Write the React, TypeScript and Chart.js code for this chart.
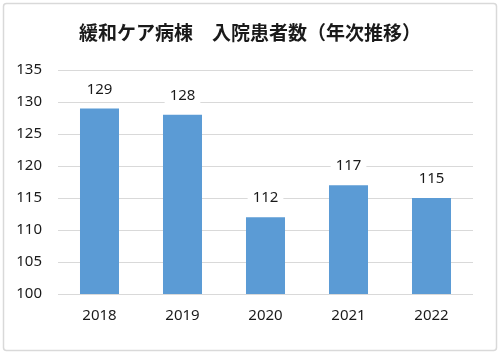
import React, { useEffect, useRef } from "react";
import { Chart, registerables } from "chart.js";

Chart.register(...registerables);

const TITLE = "緩和ケア病棟　入院患者数（年次推移）";
const YEARS = ["2018", "2019", "2020", "2021", "2022"];
const PATIENTS = [129, 128, 112, 117, 115];
const Y_MIN = 100;
const Y_MAX = 135;
const Y_STEP = 5;

const FONT = "'Noto Sans', 'Liberation Sans', sans-serif";

const framePlugin = {
  id: "frame",
  beforeDraw(chart: any) {
    const ctx = chart.ctx;
    ctx.save();
    ctx.fillStyle = "#ffffff";
    ctx.fillRect(0, 0, chart.width, chart.height);
    ctx.strokeStyle = "#d9d9d9";
    ctx.lineWidth = 1.5;
    const x = 3.5, y = 3.5, w = chart.width - 7, h = chart.height - 7, r = 3;
    ctx.beginPath();
    ctx.moveTo(x + r, y);
    ctx.lineTo(x + w - r, y);
    ctx.quadraticCurveTo(x + w, y, x + w, y + r);
    ctx.lineTo(x + w, y + h - r);
    ctx.quadraticCurveTo(x + w, y + h, x + w - r, y + h);
    ctx.lineTo(x + r, y + h);
    ctx.quadraticCurveTo(x, y + h, x, y + h - r);
    ctx.lineTo(x, y + r);
    ctx.quadraticCurveTo(x, y, x + r, y);
    ctx.stroke();
    ctx.font = `bold 19px 'Noto Sans CJK JP', sans-serif`;
    ctx.fillStyle = "#1a1a1a";
    ctx.textAlign = "center";
    ctx.textBaseline = "middle";
    ctx.fillText(TITLE, chart.width / 2, 33);
    ctx.restore();
  },
};

const labelPlugin = {
  id: "barLabels",
  afterDatasetsDraw(chart: any) {
    const ctx = chart.ctx;
    const meta = chart.getDatasetMeta(0);
    const data = chart.data.datasets[0].data;
    ctx.save();
    ctx.font = `15px ${FONT}`;
    ctx.textAlign = "center";
    ctx.textBaseline = "middle";
    meta.data.forEach((bar: any, i: number) => {
      const text = String(data[i]);
      const tw = ctx.measureText(text).width;
      const cy = bar.y - 19;
      ctx.fillStyle = "#ffffff";
      ctx.fillRect(bar.x - tw / 2 - 5, cy - 9, tw + 10, 18);
      ctx.fillStyle = "#1a1a1a";
      ctx.fillText(text, bar.x, cy);
    });
    ctx.restore();
  },
};

export default function App() {
  const ref = useRef<HTMLCanvasElement>(null);
  useEffect(() => {
    document.body.style.margin = "0";
    const chart = new Chart(ref.current!, {
      type: "bar",
      data: {
        labels: YEARS,
        datasets: [
          {
            data: PATIENTS,
            backgroundColor: "#5b9bd5",
            borderWidth: 0,
            barPercentage: 0.47,
            categoryPercentage: 1,
          },
        ],
      },
      options: {
        responsive: false,
        animation: false,
        layout: { padding: { top: 70, right: 27, left: 0, bottom: 0 } },
        plugins: {
          legend: { display: false },
          title: { display: false },
          tooltip: { enabled: false },
        },
        scales: {
          x: {
            grid: { display: false, drawTicks: false },
            border: { display: false },
            ticks: { color: "#1a1a1a", font: { size: 15, family: FONT }, padding: 13 },
            afterFit: (s: any) => { s.height = 60; },
          },
          y: {
            min: Y_MIN,
            max: Y_MAX,
            ticks: { stepSize: Y_STEP, color: "#1a1a1a", font: { size: 15, family: FONT }, padding: 16 },
            grid: { color: "#d9d9d9", lineWidth: 1, drawTicks: false },
            border: { display: false },
            afterFit: (s: any) => { s.width = 58; },
          },
        },
      },
      plugins: [framePlugin, labelPlugin],
    });
    return () => chart.destroy();
  }, []);
  return (
    <div style={{ width: 500, height: 354 }}>
      <canvas ref={ref} width={500} height={354} />
    </div>
  );
}
